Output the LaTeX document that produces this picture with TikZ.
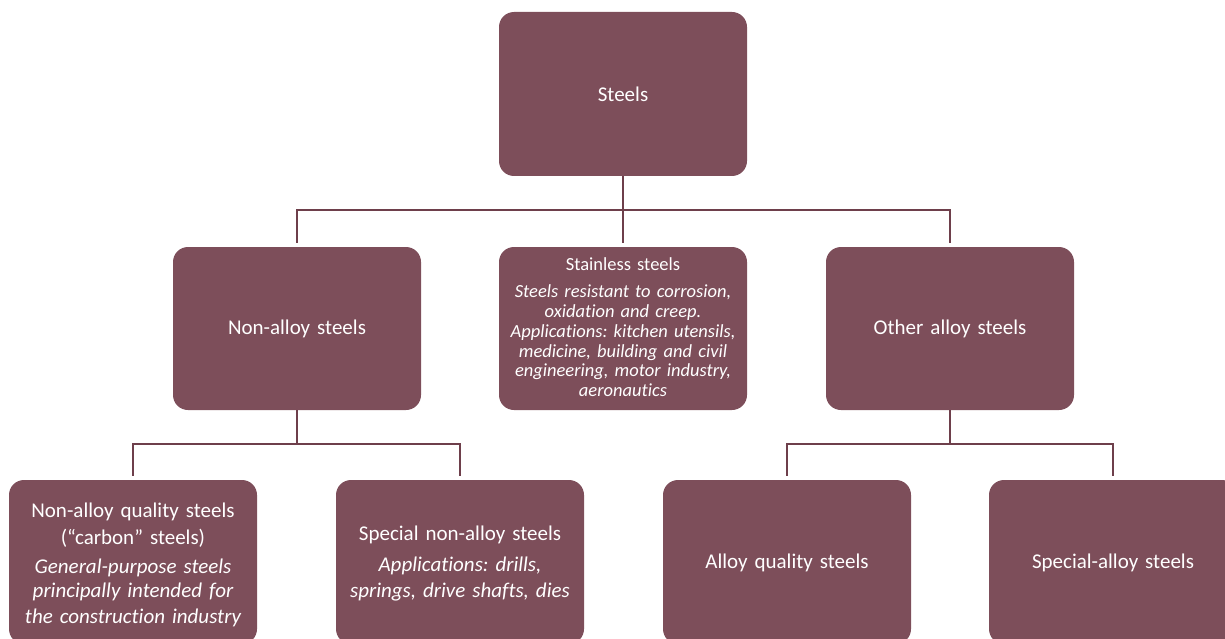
\documentclass[tikz,border=0pt]{standalone}
\usepackage{fontspec}
\setmainfont{Carlito}[Ligatures=NoCommon]
\definecolor{boxfill}{HTML}{7D4E5A}
\definecolor{linecol}{HTML}{6E3F4B}
\begin{document}
\frenchspacing
\begin{tikzpicture}[x=1pt,y=-1pt,
  box/.style={fill=boxfill, rounded corners=15pt, minimum width=248pt, minimum height=164pt},
  txt/.style={text width=238pt, align=center, text=white, inner sep=0pt,
    font=\fontsize{21}{26}\selectfont},
  small/.style={font=\fontsize{18.5}{19.7}\selectfont},
  link/.style={draw=linecol, line width=2.2pt, shorten >=4pt}]
\useasboundingbox (0,0) rectangle (1225,639);
\clip (0,0) rectangle (1225,639);

\node[box] (steels) at (623,94) {};
\node[txt] (steelst) at (623,94) {Steels};
\node[box, minimum height=163pt] (nonalloy) at (297,328.5) {};
\node[txt] (nonalloyt) at (297,328.5) {Non-alloy steels};
\node[box, minimum height=163pt] (stainless) at (623,328.5) {};
\node[txt, small] (stainlesst) at (623,327) {Stainless steels\\[8pt]\itshape Steels resistant to corrosion,\\ oxidation and creep.\\ Applications: kitchen utensils,\\ medicine, building and civil\\ engineering, motor industry,\\ aeronautics};
\node[box, minimum height=163pt] (otheralloy) at (950,328.5) {};
\node[txt] (otheralloyt) at (950,328.5) {Other alloy steels};

\node[box] (naq) at (133,562) {};
\node[txt] (naqt) at (133,565) {Non-alloy quality steels\\[1pt] (“carbon” steels)\\[5pt]\itshape\baselineskip=24pt General-purpose steels\\ principally intended for\\ the construction industry};
\node[box] (sna) at (460,562) {};
\node[txt] (snat) at (460,564) {Special non-alloy steels\\[9pt]\itshape\baselineskip=22pt Applications: drills,\\ springs, drive shafts, dies};
\node[box] (aq) at (787,562) {};
\node[txt] (aqt) at (787,563) {Alloy quality steels};
\node[box] (sa) at (1113,562) {};
\node[txt] (sat) at (1113,563) {Special-alloy steels};

\draw[link] (steels.south) -- ++(0,34) -| (nonalloy.north);
\draw[link] (steels.south) -- ++(0,34) -| (otheralloy.north);
\draw[link] (steels.south) -- (stainless.north);
\draw[link] (nonalloy.south) -- ++(0,34) -| (naq.north);
\draw[link] (nonalloy.south) -- ++(0,34) -| (sna.north);
\draw[link] (otheralloy.south) -- ++(0,34) -| (aq.north);
\draw[link] (otheralloy.south) -- ++(0,34) -| (sa.north);
\end{tikzpicture}
\end{document}
